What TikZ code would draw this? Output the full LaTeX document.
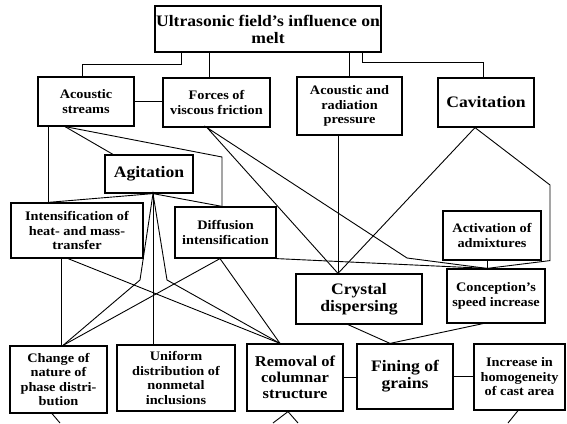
\documentclass[tikz,border=0pt]{standalone}
\usepackage{fontspec}
\setmainfont[FakeStretch=1.1]{Liberation Serif}
\tikzset{
  box/.style={draw, line width=1.2pt, align=center, inner sep=1pt, font=\bfseries\fontsize{13}{14.5}\selectfont},
  midbox/.style={box, font=\bfseries\fontsize{15}{16}\selectfont},
  bigbox/.style={box, font=\bfseries\fontsize{16}{17}\selectfont},
  link/.style={line width=0.9pt}
}
\begin{document}
\begin{tikzpicture}[x=1pt,y=-1pt]
    \useasboundingbox (0,0) rectangle (567,423);
    \node[bigbox, minimum width=226pt, minimum height=46pt] (field) at (268,29) {Ultrasonic field's influence on\\melt};
    \node[box, minimum width=96pt, minimum height=49pt] (streams) at (86,101.5) {Acoustic\\streams};
    \node[box, minimum width=107pt, minimum height=49pt] (forces) at (216.5,102.5) {Forces of\\viscous friction};
    \node[box, minimum width=105pt, minimum height=58pt] (pressure) at (349.5,106) {Acoustic and\\radiation\\pressure};
    \node[bigbox, minimum width=96pt, minimum height=49pt] (cavit) at (486,102.5) {Cavitation};
    \node[bigbox, minimum width=88pt, minimum height=38pt] (agit) at (149,174) {Agitation};
    \node[box, minimum width=132pt, minimum height=55pt] (heat) at (77,230.5) {Intensification of\\heat- and mass-\\transfer};
    \node[box, minimum width=101pt, minimum height=51pt] (diff) at (225.5,232.5) {Diffusion\\intensification};
    \node[box, minimum width=98pt, minimum height=49pt] (activ) at (492,235.5) {Activation of\\admixtures};
    \node[bigbox, minimum width=126pt, minimum height=50pt] (crystal) at (359,299) {Crystal\\dispersing};
    \node[box, minimum width=98pt, minimum height=54pt] (concept) at (496,296) {Conception's\\speed increase};
    \node[box, minimum width=97pt, minimum height=67pt] (phase) at (58.5,379.5) {Change of\\nature of\\phase distri-\\bution};
    \node[box, minimum width=118pt, minimum height=66pt] (uniform) at (176,378) {Uniform\\distribution of\\nonmetal\\inclusions};
    \node[midbox, minimum width=96pt, minimum height=67pt] (removal) at (295,377.5) {Removal of\\columnar\\structure};
    \node[bigbox, minimum width=96pt, minimum height=65pt] (fining) at (405,376.5) {Fining of\\grains};
    \node[box, minimum width=91pt, minimum height=66pt] (homog) at (519.5,377) {Increase in\\homogeneity\\of cast area};

    \coordinate (fs) at (82,64);
    \coordinate (fc) at (483,62);
    \coordinate (sd) at (222,157);
    \coordinate (ag) at (agit.south -| 153,0);
    \coordinate (kl) at (140,280);
    \coordinate (kr) at (167,280);
    \coordinate (cc) at (concept.north -| 487,0);
    \coordinate (fk) at (407,258);
    \coordinate (cr) at (550,185);
    \coordinate (e1) at (60,423);
    \coordinate (e2) at (273,423);
    \coordinate (e3) at (298,423);
    \coordinate (e4) at (508,423);

    \draw[link] (field.south -| 181,0) |- (fs) -- (streams.north -| fs);
    \draw[link] (field.south -| 209,0) -- (forces.north -| 209,0);
    \draw[link] (field.south -| pressure.north) -- (pressure.north);
    \draw[link] (field.south -| 362,0) |- (fc) -- (cavit.north -| fc);
    \draw[link] (streams.east) -- (streams.east -| forces.west);
    \draw[link] (streams.south -| 48,0) -- (heat.north -| 48,0);
    \draw[link] (streams.south -| 65,0) -- (agit.north -| 113,0);
    \draw[link] (streams.south -| 65,0) -- (sd) -- (diff.north -| sd);
    \draw[link] (heat.north -| 48,0) -- (ag) -- (diff.north -| sd);
    \draw[link] (phase.north -| 63,0) -- (kl) -- (ag) -- (kr) -- (removal.north -| 280,0);
    \draw[link] (ag) -- (uniform.north -| ag);
    \draw[link] (heat.south -| 61,0) -- (phase.north -| 61,0);
    \draw[link] (heat.south -| 68,0) -- (removal.north -| 280,0);
    \draw[link] (phase.north -| 63,0) -- (diff.south -| 220,0) -- (removal.north -| 280,0);
    \draw[link] (diff.south east) -- (cc);
    \draw[link] (crystal.north -| 338,0) -- (forces.south -| 207,0) -- (fk) -- (cc);
    \draw[link] (pressure.south -| 338,0) -- (crystal.north -| 338,0);
    \draw[link] (crystal.north -| 338,0) -- (cavit.south -| 475,0) -- (cr) -- (cr |- activ.south) -- (cc);
    \draw[link] (activ.south -| cc) -- (cc);
    \draw[link] (crystal.south -| 348,0) -- (fining.north -| 390,0) -- (concept.south -| 483,0);
    \draw[link] (removal.east) -- (removal.east -| fining.west);
    \draw[link] (fining.east) -- (fining.east -| homog.west);
    \draw[link] (phase.south -| 52,0) -- (e1);
    \draw[link] (e2) -- (removal.south -| 288,0) -- (e3);
    \draw[link] (homog.south -| 518,0) -- (e4);
\end{tikzpicture}
\end{document}
